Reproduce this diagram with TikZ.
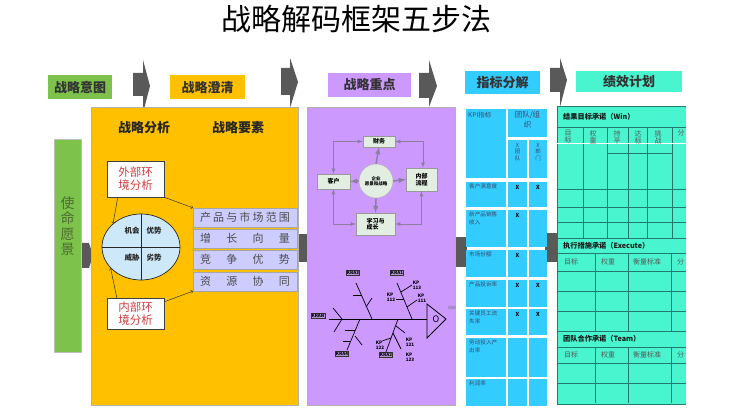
\documentclass[tikz,border=0pt]{standalone}
\usepackage{fontspec}
\setmainfont{Noto Sans CJK SC}
\usetikzlibrary{arrows,shapes.geometric,calc}
\definecolor{intentgreen}{HTML}{7DC24B}
\definecolor{clarifyyellow}{HTML}{FFC000}
\definecolor{focuspurple}{HTML}{CC99FF}
\definecolor{kpiblue}{HTML}{33CCFF}
\definecolor{planteal}{HTML}{48F5CE}
\definecolor{chevgray}{HTML}{595959}
\definecolor{gridteal}{HTML}{217A6B}
\definecolor{bscgray}{HTML}{8C7E9E}
\definecolor{bscfill}{HTML}{E1EEE1}
\definecolor{swotblue}{HTML}{CDE8F8}
\definecolor{factorlilac}{HTML}{CCCCFF}
\definecolor{envred}{HTML}{D23F3F}
\definecolor{krafill}{HTML}{B497D6}
\definecolor{kpitext}{HTML}{3B4A6B}
\definecolor{visiontext}{HTML}{4F6B35}
\tikzset{
  hdr/.style={font=\bfseries\fontsize{13}{13}\selectfont,text=black!80,minimum height=24,inner sep=0pt},
  colhead/.style={font=\bfseries\fontsize{13}{13}\selectfont,text=black!85},
  envbox/.style={draw=black!75,fill=white,minimum width=57,text=envred,align=center,font=\fontsize{11.5}{13}\selectfont,inner sep=0pt},
  envarrow/.style={->,black!80,line width=0.5pt},
  factor/.style={draw=black!35,fill=factorlilac,minimum width=104,minimum height=19,inner sep=0pt,text=black!70,font=\fontsize{11}{11}\selectfont},
  swotlbl/.style={font=\bfseries\fontsize{7.5}{8}\selectfont,text=black!85},
  bscbox/.style={draw=black!40,fill=bscfill,inner sep=0pt,align=left,font=\bfseries\fontsize{6}{6.5}\selectfont},
  bscarrow/.style={-latex,bscgray,line width=1.4pt},
  bscloop/.style={latex-latex,bscgray,line width=0.8pt},
  kra/.style={draw=black!80,fill=krafill,inner sep=0.7pt,line width=0.5pt,font=\bfseries\fontsize{4.5}{4.5}\selectfont},
  kp/.style={font=\bfseries\fontsize{4.6}{5}\selectfont,align=left,inner sep=0pt},
  kpitxt/.style={font=\fontsize{5.6}{7.5}\selectfont,text=kpitext,align=left,inner sep=0pt,anchor=north west},
  kpimark/.style={font=\bfseries\fontsize{5.5}{5.5}\selectfont,inner sep=0pt},
  plantxt/.style={font=\fontsize{7}{7}\selectfont,text=black!65,align=center,inner sep=0pt,anchor=north},
  planhead/.style={font=\bfseries\fontsize{7.2}{7.2}\selectfont,text=black!90,inner sep=0pt,anchor=west},
}
\newcommand{\spreadrow}[1]{\makebox[90pt][s]{#1}}

\begin{document}
\begin{tikzpicture}[x=1pt,y=-1pt,>=to]
\useasboundingbox (0,0) rectangle (751,411);
% title
\node[font=\fontsize{30}{30}\selectfont] (title) at (356,19) {战略解码框架五步法};
%
% step chevrons
\fill[chevgray] (133,73) -- (143,73) -- (143,60) -- (150,86) -- (143,113) -- (143,96) -- (133,96) -- cycle;
\fill[chevgray] (281,68) -- (290,68) -- (290,58) -- (298,82) -- (290,108) -- (290,95) -- (281,95) -- cycle;
\fill[chevgray] (419,73) -- (429,73) -- (429,60) -- (437,86) -- (429,107) -- (429,98) -- (419,98) -- cycle;
\fill[chevgray] (550,68) -- (560,68) -- (560,58) -- (567,80) -- (560,107) -- (560,92) -- (550,92) -- cycle;
% panel links
\fill[chevgray] (79,243) -- (89,243) -- (93,255.5) -- (89,268) -- (79,268) -- cycle;
\fill[chevgray] (296,234) rectangle (309,262);
\fill[chevgray] (454,237) rectangle (467,267);
\fill[chevgray] (545,233) rectangle (558,262);
%
% step labels
\node[hdr,fill=intentgreen,minimum width=64] (intent) at (80,87.5) {战略意图};
\node[hdr,fill=clarifyyellow,minimum width=75] (clarify) at (207.5,87.5) {战略澄清};
\node[hdr,fill=focuspurple,minimum width=83] (focus) at (369.5,85) {战略重点};
\node[hdr,fill=kpiblue,minimum width=75,minimum height=23] (kpi) at (502.5,82.5) {指标分解};
\node[hdr,fill=planteal,minimum width=106,minimum height=21] (plan) at (629,81.5) {绩效计划};
%
% vision
\node[draw=black!25,fill=intentgreen,minimum width=27,minimum height=213,inner sep=0pt,anchor=north west] (vision) at (54,139) {};
\node[font=\fontsize{14}{15.5}\selectfont,text=visiontext,align=center] (visionlbl) at (67.5,226) {使\\命\\愿\\景};
%
% clarify panel
\node[draw=black!30,fill=clarifyyellow,minimum width=207,minimum height=298,inner sep=0pt,anchor=north west] (clarifypanel) at (91,107) {};
\node[colhead] (analysis) at (144,128) {战略分析};
\node[colhead] (elements) at (238,128) {战略要素};
\node[envbox,minimum height=36] (ext) at (135.5,179) {外部环\\境分析};
\node[envbox,minimum height=31] (int) at (135.5,313.5) {内部环\\境分析};
\node[ellipse,draw=black!85,fill=swotblue,minimum width=78,minimum height=66,inner sep=0pt,line width=0.7pt] (swot) at (141,247) {};
\draw[black!85,line width=0.7pt] (swot.north) -- (swot.south) (swot.west) -- (swot.east);
\node[swotlbl] (opp) at (132,231) {机会};
\node[swotlbl] (stren) at (154,231) {优势};
\node[swotlbl] (threat) at (132,258) {威胁};
\node[swotlbl] (weak) at (154,258) {劣势};
\node[factor] (f1) at (245,217.5) {\spreadrow{产\hfill 品\hfill 与\hfill 市\hfill 场\hfill 范\hfill 围}};
\node[factor] (f2) at (245,238.5) {\spreadrow{增\hfill 长\hfill 向\hfill 量}};
\node[factor] (f3) at (245,259.5) {\spreadrow{竞\hfill 争\hfill 优\hfill 势}};
\node[factor] (f4) at (245,281.5) {\spreadrow{资\hfill 源\hfill 协\hfill 同}};
\draw[envarrow] ($(ext.south west)+(11,0)$) -- (swot.140);
\draw[envarrow] (ext.south east) -- (f1.north west);
\draw[envarrow] ($(int.north west)+(10,0)$) -- (swot.215);
\draw[envarrow] ($(int.north east)+(0,4)$) -- (f4.south west);
%
% focus panel
\node[draw=black!30,fill=focuspurple,minimum width=148,minimum height=298,inner sep=0pt,anchor=north west] (focuspanel) at (307,107) {};
\node[bscbox,minimum width=32,minimum height=11] (fin) at (379,141.5) {财务};
\node[bscbox,minimum width=33,minimum height=15] (cust) at (333.5,181.5) {客户};
\node[bscbox,minimum width=31,minimum height=23] (proc) at (421.5,179.5) {内部\\流程};
\node[bscbox,minimum width=39,minimum height=22] (learn) at (375.5,224) {学习与\\成长};
\node[circle,draw=black!30,fill=bscfill,minimum size=34,inner sep=0pt,align=center,font=\bfseries\fontsize{4.5}{5}\selectfont] (core) at (376,181) {企业\\愿景和战略};
\draw[bscarrow] (core.north) -- (fin.south);
\draw[bscarrow] (core.west) -- (cust.east);
\draw[bscarrow] (core.east) -- (proc.west);
\draw[bscarrow] (core.south) -- (learn.north);
\draw[bscloop] (fin.west) -| (cust.north);
\draw[bscloop] (fin.east) -| ($(proc.north)+(1.5,0)$);
\draw[bscloop] (cust.south) |- (learn.west);
\draw[bscloop] (proc.south) |- (learn.east);
% fishbone
\draw[line width=1pt] (329,319) -- (427,319);
\draw[line width=0.8pt] (427,304) -- (446,319) -- (427,338) -- cycle;
\node[font=\fontsize{9}{9}\selectfont,inner sep=0pt] (goal) at (436,319) {O};
\node[font=\fontsize{4}{4}\selectfont,text=black!55,inner sep=0pt] (goallbl) at (452,308) {目标};
\draw[line width=0.7pt] (412,319) -- (397,283);
\draw[line width=0.7pt] (396,299) -- (404,299);
\draw[line width=0.7pt] (401,292) -- (412,285);
\draw[line width=0.7pt] (407,307) -- (417,300);
\draw[line width=0.7pt] (372,319) -- (356,283);
\draw[line width=0.7pt] (353,295) -- (361,295);
\draw[line width=0.7pt] (366,307) -- (372,298);
\draw[line width=0.7pt] (333,308) -- (342,319) -- (334,332);
\draw[line width=0.7pt] (360,319) -- (347,350);
\draw[line width=0.7pt] (345,330) -- (355,330);
\draw[line width=0.7pt] (343,341) -- (351,341);
\draw[line width=0.7pt] (355,336) -- (362,345);
\draw[line width=0.7pt] (398,319) -- (386,352);
\draw[line width=0.7pt] (396,326) -- (405,333);
\draw[line width=0.7pt] (393,333) -- (401,349);
\draw[line width=0.7pt] (391,338) -- (382,341);
\node[font=\fontsize{5}{5}\selectfont,text=black!40,inner sep=0pt] (dots) at (342,299) {. . .};
\node[kra] (kra1) at (397,273) {KRA1};
\node[kra] (kra3) at (353,273) {KRA3};
\node[kra] (kran) at (318,316) {KRAN};
\node[kra] (kra4) at (342,354) {KRA4};
\node[kra] (kra2) at (386,355) {KRA2};
\node[kp] (kp113) at (417,285) {KP\\113};
\node[kp] (kp111) at (422,298) {KP\\111};
\node[kp] (kp112) at (391,297) {KP\\112};
\node[kp] (kp122) at (380,345) {KP\\122};
\node[kp] (kp121) at (410,342) {KP\\121};
\node[kp] (kp123) at (410,357) {KP\\123};
%
% kpi table
\fill[kpiblue] (466,109) rectangle (506,178);
\fill[kpiblue] (508,109) rectangle (547,137);
\fill[kpiblue] (508,140) rectangle (527,178);
\fill[kpiblue] (529,140) rectangle (547,178);
\node[kpitxt,font=\fontsize{6.5}{7}\selectfont] (kpihead) at (468,112) {KPI指标};
\node[kpitxt,anchor=north,align=center,font=\fontsize{7.5}{10}\selectfont] (teamhead) at (527.5,111) {团队/组\\织};
\node[kpitxt,anchor=north,align=center,font=\fontsize{5.5}{6.5}\selectfont] (teamsub) at (517.5,143) {X\\团\\队};
\node[kpitxt,anchor=north,align=center,font=\fontsize{5.5}{6.5}\selectfont] (deptsub) at (538,143) {X\\部\\门};
\foreach \t/\b/\txt/\ma/\mb in {182/207/客户满意度/X/X, 210/247/{新产品销售\\收入}/X/{}, 250/277/市场份额/X/{}, 280/307/产品投诉率/X/X, 309/335/{关键员工流\\失率}/X/X, 338/377/{劳动投入产\\出率}/{}/{}, 379/406/利润率/{}/{}}{
  \fill[kpiblue] (466,\t) rectangle (506,\b);
  \fill[kpiblue] (508,\t) rectangle (527,\b);
  \fill[kpiblue] (529,\t) rectangle (547,\b);
  \node[kpitxt] (kpirow\t) at (469,\t+2) {\txt};
  \node[kpimark] (teammark\t) at (517.5,\t+5) {\ma};
  \node[kpimark] (deptmark\t) at (538,\t+5) {\mb};
}
%
% plan table
\fill[planteal] (557,107) rectangle (686,404);
\draw[gridteal,line width=1pt] (686,107) -- (557,107) -- (557,404) -- (686,404);
\foreach \y in {127,189,207,222,238,253,271,291,311,331,347,363,383}
  \draw[gridteal,line width=0.8pt] (557,\y) -- (686,\y);
\draw[gridteal,line width=0.8pt] (607,153) -- (672,153);
\foreach \x in {583,607,628,647,672}
  \draw[gridteal,line width=0.8pt] (\x,127) -- (\x,238);
\foreach \x in {595,628,671}{
  \draw[gridteal,line width=0.8pt] (\x,253) -- (\x,331);
  \draw[gridteal,line width=0.8pt] (\x,347) -- (\x,403);
}
\draw[white,line width=1pt] (557,144) -- (686,144);
\node[planhead] (winhead) at (563,117) {结果目标承诺（Win）};
\node[plantxt] (wgoal) at (568,130) {目\\标};
\node[plantxt] (wweight) at (593,130) {权\\重};
\node[plantxt] (wflat) at (617,130) {持\\平};
\node[plantxt] (wmeet) at (638,130) {达\\标};
\node[plantxt] (wchal) at (658,130) {挑\\战};
\node[plantxt] (wscore) at (681,130) {分};
\node[planhead] (exehead) at (563,245.5) {执行措施承诺（Execute）};
\node[plantxt,anchor=west] (egoal) at (564,261.5) {目标};
\node[plantxt,anchor=west] (eweight) at (601,261.5) {权重};
\node[plantxt,anchor=west] (emeasure) at (633,261.5) {衡量标准};
\node[plantxt,anchor=west] (escore) at (677,261.5) {分};
\node[planhead] (teamplan) at (563,338.5) {团队合作承诺（Team）};
\node[plantxt,anchor=west] (tgoal) at (564,354.5) {目标};
\node[plantxt,anchor=west] (tweight) at (601,354.5) {权重};
\node[plantxt,anchor=west] (tmeasure) at (633,354.5) {衡量标准};
\node[plantxt,anchor=west] (tscore) at (677,354.5) {分};
\end{tikzpicture}
\end{document}
